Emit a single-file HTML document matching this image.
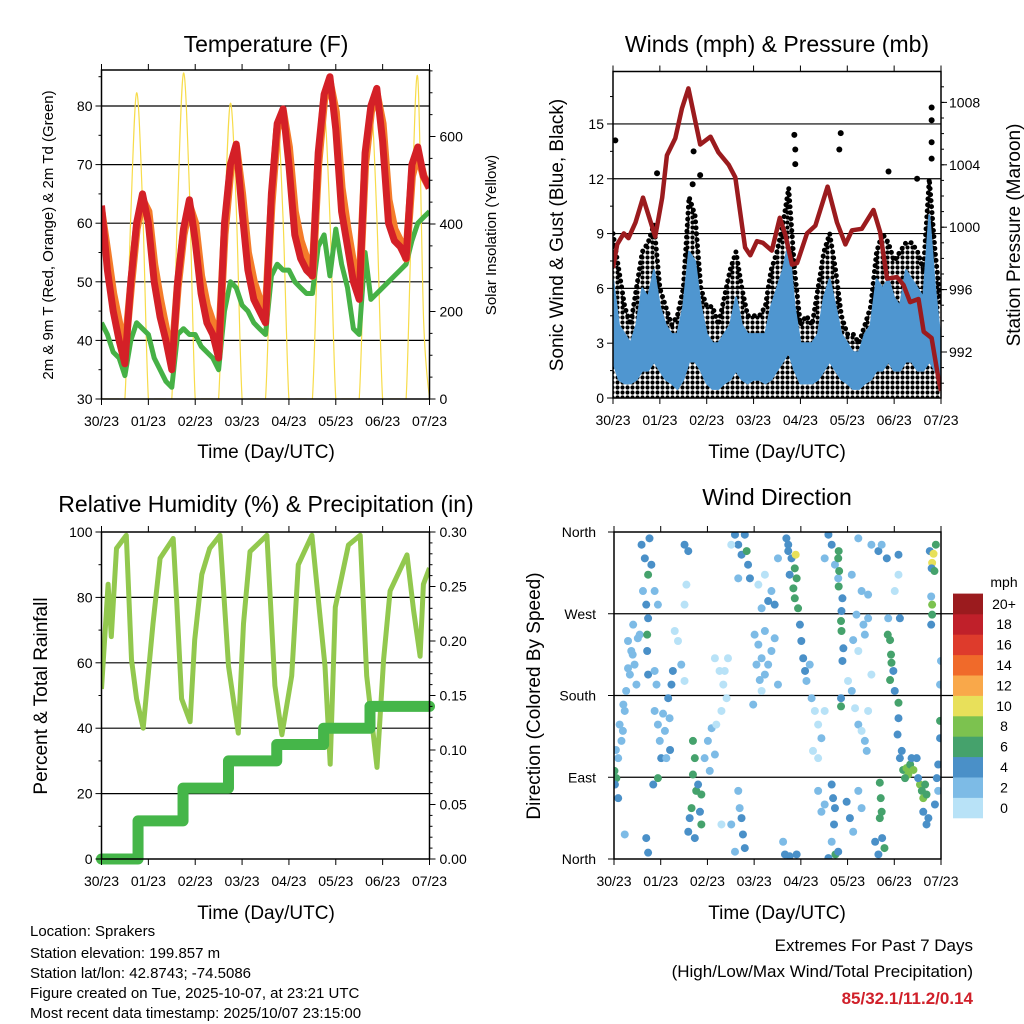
<!DOCTYPE html>
<html><head><meta charset="utf-8"><style>
html,body{margin:0;padding:0;background:#fff}
svg{display:block;font-family:"Liberation Sans",Arial,sans-serif}
</style></head><body>
<svg id="c" width="1024" height="1024" viewBox="0 0 1024 1024" xmlns="http://www.w3.org/2000/svg">
<defs>
<pattern id="dots" width="5" height="5" patternUnits="userSpaceOnUse"><circle cx="2.5" cy="2.5" r="2.1" fill="#000"/></pattern>
<clipPath id="clipT"><rect x="101.5" y="70" width="328" height="329"/></clipPath>
<clipPath id="clipW"><rect x="613" y="71.5" width="328" height="326.5"/></clipPath>
<clipPath id="clipR"><rect x="101.5" y="532" width="328" height="327"/></clipPath>
<clipPath id="clipD"><rect x="614" y="532" width="327" height="327"/></clipPath>
</defs>
<g id="texts">
<text x="266" y="52" font-size="23" text-anchor="middle">Temperature (F)</text>
<text x="777" y="52" font-size="23" text-anchor="middle">Winds (mph) &amp; Pressure (mb)</text>
<text x="266" y="512" font-size="23" text-anchor="middle">Relative Humidity (%) &amp; Precipitation (in)</text>
<text x="777" y="505" font-size="23" text-anchor="middle">Wind Direction</text>
<text x="266" y="458" font-size="19" text-anchor="middle">Time (Day/UTC)</text>
<text x="777" y="458" font-size="19" text-anchor="middle">Time (Day/UTC)</text>
<text x="266" y="919" font-size="19" text-anchor="middle">Time (Day/UTC)</text>
<text x="777" y="919" font-size="19" text-anchor="middle">Time (Day/UTC)</text>
<text transform="translate(53,235) rotate(-90)" font-size="15" text-anchor="middle">2m &amp; 9m T (Red, Orange) &amp; 2m Td (Green)</text>
<text transform="translate(496,235) rotate(-90)" font-size="15" text-anchor="middle">Solar Insolation (Yellow)</text>
<text transform="translate(563,235) rotate(-90)" font-size="19" text-anchor="middle">Sonic Wind &amp; Gust (Blue, Black)</text>
<text transform="translate(1020,235) rotate(-90)" font-size="19" text-anchor="middle">Station Pressure (Maroon)</text>
<text transform="translate(47,696) rotate(-90)" font-size="19" text-anchor="middle">Percent &amp; Total Rainfall</text>
<text transform="translate(540,696) rotate(-90)" font-size="19" text-anchor="middle">Direction (Colored By Speed)</text>
<g font-size="15">
<text x="30" y="936">Location: Sprakers</text>
<text x="30" y="958">Station elevation: 199.857 m</text>
<text x="30" y="978">Station lat/lon: 42.8743; -74.5086</text>
<text x="30" y="998">Figure created on Tue, 2025-10-07, at 23:21 UTC</text>
<text x="30" y="1018">Most recent data timestamp: 2025/10/07 23:15:00</text>
</g>
<text x="973" y="951" font-size="17" text-anchor="end">Extremes For Past 7 Days</text>
<text x="973" y="977" font-size="17" text-anchor="end">(High/Low/Max Wind/Total Precipitation)</text>
<text x="973" y="1004" font-size="17" font-weight="bold" fill="#d0202a" text-anchor="end">85/32.1/11.2/0.14</text>
</g>
</svg>
<script>
const dayLabels=["30/23","01/23","02/23","03/23","04/23","05/23","06/23","07/23"];
// 3-hourly series, t = 0..7 days step 0.125
const tempRed=[63,52,45,40,36,50,60,65,60,50,44,40,35,50,59,64,57,48,43,41,37,60,70,73.5,62,52,47,45,43,65,77,79.5,70,58,54,52,51,72,82,85,76,62,56,50,47,72,80,83,74,60,57,56,54,70,73,68,66];
const tempOrange=[62,55,48,43,38,49,59,64,62,53,47,42,36,49,58,63,60,51,46,43,38,58,69,73,65,55,50,47,44,63,76,79,73,62,57,54,51,70,81,84,79,66,59,53,48,70,79,82,77,64,59,57,54,68,72,68,66];
const dewGreen=[43,41,38,37,34,40,43,42,41,37,35,33,32,41,42,41,41,39,38,37,35,45,50,49,46,45,43,42,41,51,53,52,52,50,49,48,48,56,58,51,59,53,49,42,41,55,47,48,49,50,51,52,53,57,60,61,62];
const solar=[0,0,0,0,0,420,700,450,0,0,0,0,0,440,745,480,0,0,0,0,0,400,676,440,0,0,0,0,0,380,642,410,0,0,0,0,0,385,650,415,0,0,0,0,0,390,665,420,0,0,0,0,0,440,734,180,0];
const windHigh=[6.5,4,3.5,3,4,6,5.5,7,5,4,3.5,3.5,5,8,7.5,5,3.5,3,3,3.5,4,5.5,4,3.5,3.5,3.5,3.5,5,6,7,8.5,5,3,3,3,3.5,5.5,6.5,5,3.5,3,2.5,2.5,3.5,4,6.5,6,6.5,5.5,5,7,6.5,6,5.5,10,6,3];
const windLow=[2,1,0.8,0.8,1,1.5,1.5,2,1.5,1,0.8,0.5,1,2,2,1.5,0.8,0.5,0.5,0.8,1,1.5,1,0.8,1,1,0.8,1,1.5,2,2.5,1.5,0.8,0.8,0.8,1,1.5,2,1.5,1,0.8,0.5,0.5,0.8,1,1.5,1.5,2,1.5,1.5,2,2,1.5,1.5,2,1.5,1];
const gustHigh=[9,7,5,4,6,8,8.5,9.5,6,5,4,4.5,6,11,10,6,5,5,4,5.5,7,8,6,4.5,4.5,4.5,5,7,8,9.5,11.5,7,4,4.5,4,6,8,9,7,4.5,3.5,3.5,3,4,5,8,9,8.5,7.5,8,8.5,8.5,8,7,12,8,5];
const gustOutDays=[0.05,1.72,1.86,1.7,3.87,3.89,3.89,4.86,4.83,5.88,6.8,6.8,6.8,6.8,0.94,6.49];
const gustOutVals=[14.1,13.5,12.2,11.7,14.4,13.6,12.8,14.5,13.6,12.4,15.9,15.2,14.0,13.1,12.3,12.0];
const pressDays=[0,0.09,0.23,0.33,0.48,0.64,0.9,1.05,1.15,1.33,1.47,1.61,1.86,2.08,2.25,2.47,2.61,2.82,2.93,3.07,3.2,3.39,3.56,3.68,3.82,3.93,4.14,4.32,4.58,4.78,4.96,5.1,5.31,5.56,5.7,5.85,6.06,6.2,6.34,6.52,6.63,6.8,6.95,7];
const pressVals=[997.4,998.9,999.6,999.3,1000.3,1001.9,999.4,1001.9,1004.6,1005.7,1007.6,1008.9,1005.3,1005.8,1004.8,1004.0,1003.2,998.7,998.2,999.1,999.0,998.5,1000.6,999.5,997.6,997.7,999.6,1000.1,1002.6,1000.3,998.9,999.8,999.9,1001.1,999.7,996.7,996.8,996.3,995.2,995.4,993.3,992.9,990.2,989.5];
const rhDays=[0,0.14,0.21,0.32,0.53,0.64,0.75,0.89,1.0,1.1,1.25,1.53,1.6,1.71,1.89,1.99,2.14,2.31,2.53,2.71,2.92,3.03,3.17,3.53,3.7,3.85,4.06,4.2,4.49,4.77,4.88,4.99,5.27,5.52,5.66,5.88,6.02,6.16,6.52,6.66,6.8,6.87,7.0];
const rhVals=[52,84,68,95,99,61,49,40,57,72,92,98,80,49,42,67,87,95,99,59,38.5,72,94,99,53,38,56,90,99,59,29,77,96,99,56,28,61,82,93,76,62,84,89];
const precipDays=[0,0.78,1.74,2.71,3.74,4.74,5.73,7];
const precipTotals=[0,0.035,0.065,0.09,0.105,0.12,0.14,0.14];
const speedLabels=["0","2","4","6","8","10","12","14","16","18","20+"];
const speedColors=["#b8e2f7","#7dbbe6","#4a90c8","#45a26c","#7cc24f","#e8e05a","#f9a84a","#f06a2a","#de3b2c","#c0202a","#9b1b1e"];
// [day, direction deg, speed mph]
const windDirObs=[[0.01,97,6],[0.05,89,6],[0.09,111,3],[0.16,130,2],[0.12,148,3],[0.19,141,3],[0.23,163,2],[0.09,67,4],[0.04,120,2],[0.02,82,4],
[0.3,240,2],[0.37,229,2],[0.44,214,2],[0.51,243,2],[0.34,203,2],[0.48,192,2],[0.41,258,2],[0.26,185,2],[0.55,247,2],[0.3,210,2],[0.4,225,2],[0.2,170,2],
[0.59,346,4],[0.66,331,4],[0.73,313,6],[0.62,295,2],[0.69,280,4],[0.76,353,4],[0.8,324,4],[0.87,295,2],[0.94,280,2],
[0.73,265,4],[0.71,247,6],[0.71,229,4],[0.73,203,4],[0.87,207,2],[0.91,192,2],
[0.87,163,2],[0.94,148,3],[0.98,130,3],[1.01,111,4],[0.94,89,6],[0.84,82,4],[1.09,141,3],[1.16,177,4],[1.23,192,4],[1.26,207,4],[1.19,155,2],[1.12,111,2],[1.2,120,4],[1.05,160,3],
[0.69,23,4],[0.73,7,4],[0.23,27,2],
[1.3,251,1],[1.37,240,1],[1.44,214,2],[1.51,196,1],
[1.51,346,4],[1.59,339,4],[1.55,302,1],[1.51,280,1],
[1.69,130,6],[1.73,111,6],[1.69,93,6],[1.76,75,7],[1.87,71,6],[1.66,56,6],[1.84,52,5],[1.87,38,6],[1.8,82,4],[1.62,45,4],[1.59,30,4],[1.73,23,4],
[1.94,111,2],[2.01,130,2],[2.09,144,2],[2.16,115,2],[2.05,97,2],
[2.16,221,1],[2.26,207,1],[2.34,192,1],[2.41,177,1],[2.3,163,1],[2.19,148,1],[2.44,221,1],[2.37,207,1],
[2.59,357,4],[2.66,346,4],[2.73,335,4],[2.8,357,4],[2.84,339,6],[2.87,324,4],[2.91,309,4],[2.66,309,2],[2.51,346,1],
[2.66,75,3],[2.69,56,2],[2.73,45,4],[2.76,27,4],[2.8,12,4],[2.59,8,3],[2.51,38,2],[2.3,38,1],
[3.01,247,2],[3.09,236,2],[3.16,221,2],[3.23,203,2],[3.3,214,2],[3.37,229,2],[3.44,243,2],[3.16,185,1],[3.05,214,3],[3.12,197,3],[3.23,251,2],[3.51,192,3],[2.98,170,2],
[3.09,302,1],[3.23,313,1],[3.37,295,2],[3.44,280,4],[3.16,276,2],[3.3,284,4],[3.51,331,2],
[3.69,353,4],[3.73,339,4],[3.8,331,5],[3.87,320,6],[3.91,309,6],[3.84,298,7],[3.87,287,6],[3.94,276,6],[3.89,335,10],[3.76,313,5],[3.73,346,4],
[3.98,258,4],[4.01,240,4],[4.05,221,4],[4.09,207,4],
[4.12,196,2],[4.23,177,2],[4.3,163,1],[4.37,148,1],[4.44,133,2],[4.19,214,2],[4.51,163,1],[4.26,119,1],[4.37,111,1],
[3.66,5,4],[3.76,3,4],[3.91,5,4],[3.62,19,2],
[4.37,75,2],[4.44,52,2],[4.51,60,3],
[4.59,357,4],[4.66,346,4],[4.73,324,2],[4.8,309,2],[4.51,331,2],
[4.66,82,4],[4.69,67,4],[4.73,56,4],[4.71,38,4],[4.74,5,6],[4.66,19,3],[4.8,8,4],[4.59,1,4],
[4.81,339,6],[4.8,331,6],[4.82,317,6],[4.81,300,6],[4.89,287,4],[4.87,273,4],[4.86,262,6],[4.87,251,6],[4.91,232,4],[4.89,218,4],[4.86,177,4],[4.86,168,6],
[5.01,196,1],[5.09,185,2],[5.16,166,1],[5.23,148,2],[5.3,141,1],[5.37,130,2],[5.44,163,1],[5.51,203,1],[5.12,241,2],[5.34,258,2],[5.23,229,1],[5.41,119,2],
[5.09,313,2],[5.23,353,2],[5.3,295,2],[5.51,346,2],[5.44,291,2],[5.66,339,4],[5.84,331,4],[5.73,346,2],
[4.98,63,4],[5.05,45,4],[5.12,30,2],[5.23,75,2],[5.3,56,2],
[5.69,84,6],[5.71,67,6],[5.73,52,6],[5.69,45,6],[5.74,23,4],[5.79,12,6],[5.66,5,4],[5.59,19,4],
[5.86,247,6],[5.91,241,7],[5.93,225,7],[5.94,216,7],[5.91,197,7],[5.98,207,4],[6.01,185,4],[6.09,172,6],[5.87,265,2],
[6.09,155,4],[6.07,137,4],[6.12,111,4],[6.19,98,6],[6.26,100,8],[6.3,93,8],[6.34,104,7],[6.41,98,8],[6.37,111,4],[6.16,119,4],[6.23,89,7],[6.48,111,4],
[6.55,82,8],[6.59,75,7],[6.62,67,8],[6.66,82,7],[6.69,71,6],[6.62,52,4],[6.73,45,4],[6.69,38,4],[6.51,89,4],
[6.76,339,4],[6.84,336,10],[6.81,326,10],[6.8,320,4],[6.86,317,6],[6.89,346,6],[6.81,280,8],[6.81,269,6],[6.79,258,4],[6.79,289,2],
[6.98,152,6],[6.98,133,4],[6.94,104,4],[6.91,89,4],[6.94,75,2],[6.87,60,4],[7.0,218,2],[6.98,192,2],
[6.09,313,1],[6.09,335,4],[6.01,295,1],[6.12,265,4],
[5.19,269,2],[5.44,265,2],[5.37,247,2]];

const NS="http://www.w3.org/2000/svg";
const svg=document.getElementById('c');
function mk(tag,attrs,parent){const e=document.createElementNS(NS,tag);for(const k in attrs)e.setAttribute(k,attrs[k]);(parent||svg).appendChild(e);return e;}
function txt(x,y,s,size,anchor,parent){const e=mk('text',{x:x,y:y,'font-size':size,'text-anchor':anchor},parent);e.textContent=s;return e;}
const T3=i=>i*0.125;
function line(pts){return pts.map((p,i)=>(i?'L':'M')+p[0].toFixed(1)+','+p[1].toFixed(1)).join('');}
function smooth(pts){let d='M'+pts[0][0]+','+pts[0][1];for(let i=0;i<pts.length-1;i++){const p0=pts[i-1]||pts[i],p1=pts[i],p2=pts[i+1],p3=pts[i+2]||p2;d+='C'+(p1[0]+(p2[0]-p0[0])/6).toFixed(1)+','+(p1[1]+(p2[1]-p0[1])/6).toFixed(1)+' '+(p2[0]-(p3[0]-p1[0])/6).toFixed(1)+','+(p2[1]-(p3[1]-p1[1])/6).toFixed(1)+' '+p2[0].toFixed(1)+','+p2[1].toFixed(1);}return d;}

function xAxis(x0,x1,y0,y1,g){const X=d=>x0+d*(x1-x0)/7;
 dayLabels.forEach((s,i)=>{const x=X(i);mk('line',{x1:x,x2:x,y1:y1,y2:y1+6,stroke:'#000'},g);mk('line',{x1:x,x2:x,y1:y0,y2:y0-6,stroke:'#000'},g);
  const t=txt(x,y1+27,s,14,'middle',g);});
 return X;}
function yTicks(x,vals,Y,dir,len,g){vals.forEach(v=>{const y=Y(v);mk('line',{x1:x,x2:x+dir*len,y1:y,y2:y,stroke:'#000'},g);});}
function grid(x0,x1,vals,Y,g){vals.forEach(v=>{const y=Y(v);mk('line',{x1:x0,x2:x1,y1:y,y2:y,stroke:'#000','stroke-width':1.2},g);});}
function frame(x0,y0,x1,y1,g){mk('rect',{x:x0,y:y0,width:x1-x0,height:y1-y0,fill:'none',stroke:'#000','stroke-width':1.5},g);}
function range(a,b,s){const r=[];for(let v=a;v<=b+1e-9;v+=s)r.push(+v.toFixed(4));return r;}

// ---------- Temperature panel ----------
(function(){
 const x0=101.5,x1=429.5,y0=70,y1=399;
 const g=mk('g',{});
 const X=d=>x0+d*(x1-x0)/7, Y=v=>y1-(v-30)*5.86, YS=v=>y1-v*0.4375;
 grid(x0,x1,[40,50,60,70,80],Y,g);
 const c=mk('g',{'clip-path':'url(#clipT)'},g);
 const s=mk('path',{d:smooth(solar.map((v,i)=>[X(T3(i)),YS(v)])),fill:'none',stroke:'#f7dc4a','stroke-width':1.2},c);
 
 const dw=mk('path',{d:line(dewGreen.map((v,i)=>[X(T3(i)),Y(v)])),fill:'none',stroke:'#46b146','stroke-width':5,'stroke-linejoin':'round'},c);
 
 const o=mk('path',{d:line(tempOrange.map((v,i)=>[X(T3(i)),Y(v)])),fill:'none',stroke:'#f47c2a','stroke-width':8,'stroke-linejoin':'round'},c);
 
 const r=mk('path',{d:line(tempRed.map((v,i)=>[X(T3(i)),Y(v)])),fill:'none',stroke:'#d42027','stroke-width':7,'stroke-linejoin':'round'},c);
 
 frame(x0,y0,x1,y1,g);
 xAxis(x0,x1,y0,y1,g);
 yTicks(x0,range(30,85,10),Y,-1,6,g);yTicks(x0,range(35,85,10),Y,-1,3,g);
 range(30,80,10).forEach(v=>{const t=txt(x0-9,Y(v)+5,String(v),14,'end',g);});
 yTicks(x1,range(0,750,200),YS,1,6,g);yTicks(x1,range(0,750,50),YS,1,3,g);
 range(0,600,200).forEach(v=>{const t=txt(x1+10,YS(v)+5,String(v),14,'start',g);});
})();

// ---------- Wind panel ----------
(function(){
 const x0=613,x1=941,y0=71.5,y1=398;
 const g=mk('g',{});
 const X=d=>x0+d*(x1-x0)/7, Y=v=>y1-v*18.27, YP=p=>352-(p-992)*15.6;
 grid(x0,x1,[3,6,9,12,15],Y,g);
 const c=mk('g',{'clip-path':'url(#clipW)'},g);
 const top=gustHigh.map((v,i)=>[X(T3(i)),Y(v)]);
 const gb=mk('path',{d:line(top)+'L'+X(7)+','+Y(0)+'L'+X(0)+','+Y(0)+'Z',fill:'url(#dots)'},c);
 
 mk('path',{d:line(top),fill:'none',stroke:'#000','stroke-width':5,'stroke-dasharray':'0 6','stroke-linecap':'round'},c);
 gustOutDays.forEach((d,i)=>{const e=mk('circle',{cx:X(d),cy:Y(gustOutVals[i]),r:3,fill:'#000'},c);
  });
 const hi=windHigh.map((v,i)=>[X(T3(i)),Y(v)]), lo=windLow.map((v,i)=>[X(T3(i)),Y(v)]).reverse();
 const wb=mk('path',{d:line(hi.concat(lo))+'Z',fill:'#4f96d0',stroke:'#4f96d0','stroke-width':2,'stroke-linejoin':'round'},c);
 
 const p=mk('path',{d:line(pressDays.map((d,i)=>[X(d),YP(pressVals[i])])),fill:'none',stroke:'#9b1b1e','stroke-width':4.5,'stroke-linejoin':'round'},c);
 
 frame(x0,y0,x1,y1,g);
 xAxis(x0,x1,y0,y1,g);
 yTicks(x0,range(0,15,3),Y,-1,6,g);yTicks(x0,range(1.5,16.5,3),Y,-1,3,g);
 range(0,15,3).forEach(v=>{const t=txt(x0-9,Y(v)+5,String(v),14,'end',g);});
 yTicks(x1,range(992,1008,4),YP,1,6,g);yTicks(x1,range(990,1009,1),YP,1,3,g);
 range(992,1008,4).forEach(v=>{const t=txt(x1+8,YP(v)+5,String(v),14,'start',g);});
})();

// ---------- RH & precip panel ----------
(function(){
 const x0=101.5,x1=429.5,y0=532,y1=859;
 const g=mk('g',{});
 const X=d=>x0+d*(x1-x0)/7, Y=v=>y1-v*3.27, YR=v=>y1-v*1090;
 grid(x0,x1,[20,40,60,80],Y,g);
 const c=mk('g',{'clip-path':'url(#clipR)'},g);
 const rh=mk('path',{d:line(rhDays.map((d,i)=>[X(d),Y(rhVals[i])])),fill:'none',stroke:'#92c84e','stroke-width':5,'stroke-linejoin':'round'},c);
 
 let d='M'+X(0)+','+YR(0);
 for(let i=1;i<precipDays.length;i++){d+='L'+X(precipDays[i])+','+YR(precipTotals[i-1])+'L'+X(precipDays[i])+','+YR(precipTotals[i]);}
 const pr=mk('path',{d:d,fill:'none',stroke:'#45b649','stroke-width':11,'stroke-linecap':'round','stroke-linejoin':'round'},g);
 
 frame(x0,y0,x1,y1,g);
 xAxis(x0,x1,y0,y1,g);
 yTicks(x0,range(0,100,20),Y,-1,6,g);yTicks(x0,range(10,90,20),Y,-1,3,g);
 range(0,100,20).forEach(v=>{const t=txt(x0-9,Y(v)+5,String(v),14,'end',g);});
 yTicks(x1,range(0,0.3,0.05),YR,1,6,g);yTicks(x1,range(0,0.3,0.01),YR,1,3,g);
 range(0,0.3,0.05).forEach(v=>{const t=txt(x1+10,YR(v)+5,v.toFixed(2),14,'start',g);});
})();

// ---------- Wind direction panel ----------
(function(){
 const x0=614,x1=941,y0=532,y1=859;
 const g=mk('g',{});
 const X=d=>x0+d*(x1-x0)/7, Y=v=>y1-v*(y1-y0)/360;
 grid(x0,x1+14,[90,180,270],Y,g);
 const c=mk('g',{'clip-path':'url(#clipD)'},g);
 windDirObs.forEach(o=>{const k=Math.min(10,Math.floor(o[2]/2));
  const e=mk('circle',{cx:X(o[0]),cy:Y(o[1]),r:4,fill:speedColors[k]},c);
  });
 frame(x0,y0,x1,y1,g);
 xAxis(x0,x1,y0,y1,g);
 yTicks(x0,[0,90,180,270,360],Y,-1,6,g);
 ["North","East","South","West","North"].forEach((s,i)=>{const t=txt(x0-18,Y(i*90)+5,s,14,'end',g);});
 const cb=mk('g',{},g);
 const bh=20.4,by=818;
 speedColors.forEach((col,i)=>{const r=mk('rect',{x:953,y:by-(i+1)*bh,width:30,height:bh+0.3,fill:col},cb);
  
  const t=txt(1004,by-i*bh-bh/2+5,speedLabels[i],14,'middle',cb);});
 const u=txt(1004,587,'mph',14,'middle',cb);
})();
</script>
</body></html>
